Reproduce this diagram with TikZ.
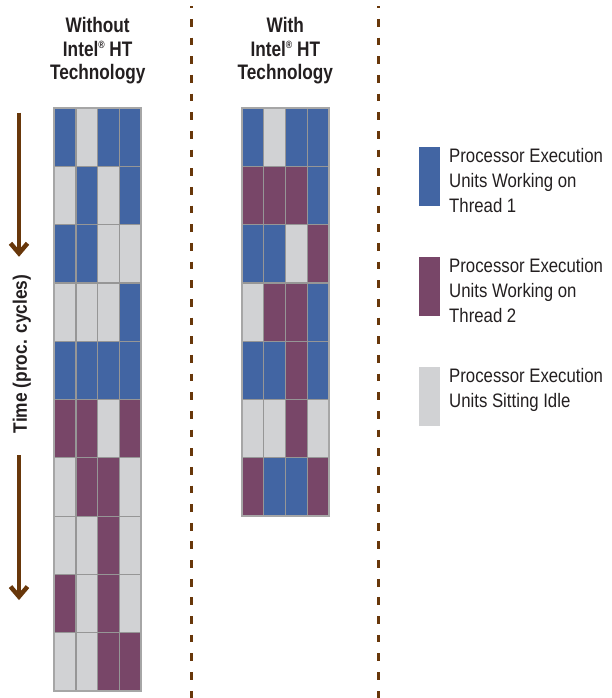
\documentclass[tikz,border=0pt]{standalone}
\usepackage{fontspec}
\setmainfont{Liberation Sans}
\newfontfamily\hdrfont[FakeStretch=0.82]{Liberation Sans}
\newfontfamily\timefont[FakeStretch=0.89]{Liberation Sans}
\newfontfamily\legfont[FakeStretch=0.86]{Liberation Sans}
\usetikzlibrary{calc}
\definecolor{cB}{RGB}{66,101,163}
\definecolor{cP}{RGB}{120,70,104}
\definecolor{cG}{RGB}{209,210,212}
\definecolor{gridc}{RGB}{150,150,150}
\definecolor{brn}{RGB}{104,55,10}
\definecolor{txt}{RGB}{35,31,32}
\newcommand{\regmark}{\raisebox{7.5pt}{\fontsize{10.5}{10.5}\selectfont ®}}
\begin{document}
\begin{tikzpicture}[x=1pt,y=-1pt,
  hdr/.style={font=\hdrfont\bfseries\fontsize{21}{24}\selectfont, text=txt, anchor=base, inner sep=0pt},
  leg/.style={font=\legfont\fontsize{19.5}{25}\selectfont, text=txt, anchor=base west, inner sep=0pt},
  cell/.style={draw=gridc, line width=1.2pt},
  frame/.style={draw=gridc!85, line width=1.8pt},
  sep/.style={draw=brn, line width=2.8pt, dash pattern=on 7.7pt off 10.96pt},
  timearrow/.style={draw=brn, line width=4.5pt},
  swatch/.style={minimum width=21pt, minimum height=59pt, inner sep=0pt, anchor=north west, outer sep=0pt}]
\useasboundingbox (0,0) rectangle (612,698);

% separators
\coordinate (s1t) at (191.2,0.34);
\coordinate (s1b) at (191.2,698);
\coordinate (s2t) at (378.3,0.34);
\coordinate (s2b) at (378.3,698);
\begin{scope}
\clip (0,6.5) rectangle (612,698);
\draw[sep] (s1t) -- (s1b);
\draw[sep] (s2t) -- (s2b);
\end{scope}

% headers
\node[hdr] (h1a) at (97.7,32.5) {Without};
\node[hdr] (h1b) at (97.7,56.3) {Intel\regmark\ HT};
\node[hdr] (h1c) at (97.7,80) {Technology};
\node[hdr] (h2a) at (285.3,32.5) {With};
\node[hdr] (h2b) at (285.3,56.3) {Intel\regmark\ HT};
\node[hdr] (h2c) at (285.3,80) {Technology};

% left grid: without HT
\foreach \row [count=\r from 0] in {{B,G,B,B},{G,B,G,B},{B,B,G,G},{G,G,G,B},{B,B,B,B},{P,P,G,P},{G,P,P,G},{G,G,P,G},{P,G,P,G},{G,G,P,P}}{
  \foreach \c [count=\k from 0] in \row {
    \filldraw[cell, fill=c\c] (54.3+\k*21.7, 108+\r*58.3) rectangle ++(21.7,58.3);
  }
}
\draw[frame] (54.3,108) rectangle (141.1,691);

% right grid: with HT
\foreach \row [count=\r from 0] in {{B,G,B,B},{P,P,P,B},{B,B,G,P},{G,P,P,B},{B,B,P,B},{G,G,P,G},{P,B,B,P}}{
  \foreach \c [count=\k from 0] in \row {
    \filldraw[cell, fill=c\c] (241.7+\k*21.8, 108+\r*58.3) rectangle ++(21.8,58.3);
  }
}
\draw[frame] (241.7,108) rectangle (328.9,516.1);

% time axis
\node[rotate=90, anchor=base, inner sep=0pt, text=txt, font=\timefont\bfseries\fontsize{19.5}{22}\selectfont] (tlabel) at (27,354) {Time (proc. cycles)};
\coordinate (a1s) at (19,112.7);
\coordinate (a1e) at (19,253.3);
\coordinate (a2s) at (19,455);
\coordinate (a2e) at (19,596.6);
\draw[timearrow] (a1s) -- (a1e);
\draw[timearrow, line join=miter, miter limit=10] ($(a1e)+(-8.5,-10)$) -- (a1e) -- ($(a1e)+(8.5,-10)$);
\draw[timearrow] (a2s) -- (a2e);
\draw[timearrow, line join=miter, miter limit=10] ($(a2e)+(-8.5,-10)$) -- (a2e) -- ($(a2e)+(8.5,-10)$);

% legend
\node[swatch, fill=cB] (k1) at (419,146.7) {};
\node[leg] (l1a) at (449,162.7) {Processor Execution};
\node[leg] (l1b) at (449,187.7) {Units Working on};
\node[leg] (l1c) at (449,212.7) {Thread 1};
\node[swatch, fill=cP] (k2) at (419,256.7) {};
\node[leg] (l2a) at (449,272.7) {Processor Execution};
\node[leg] (l2b) at (449,297.7) {Units Working on};
\node[leg] (l2c) at (449,322.7) {Thread 2};
\node[swatch, fill=cG] (k3) at (419,366.7) {};
\node[leg] (l3a) at (449,382.7) {Processor Execution};
\node[leg] (l3b) at (449,407.7) {Units Sitting Idle};
\end{tikzpicture}
\end{document}
